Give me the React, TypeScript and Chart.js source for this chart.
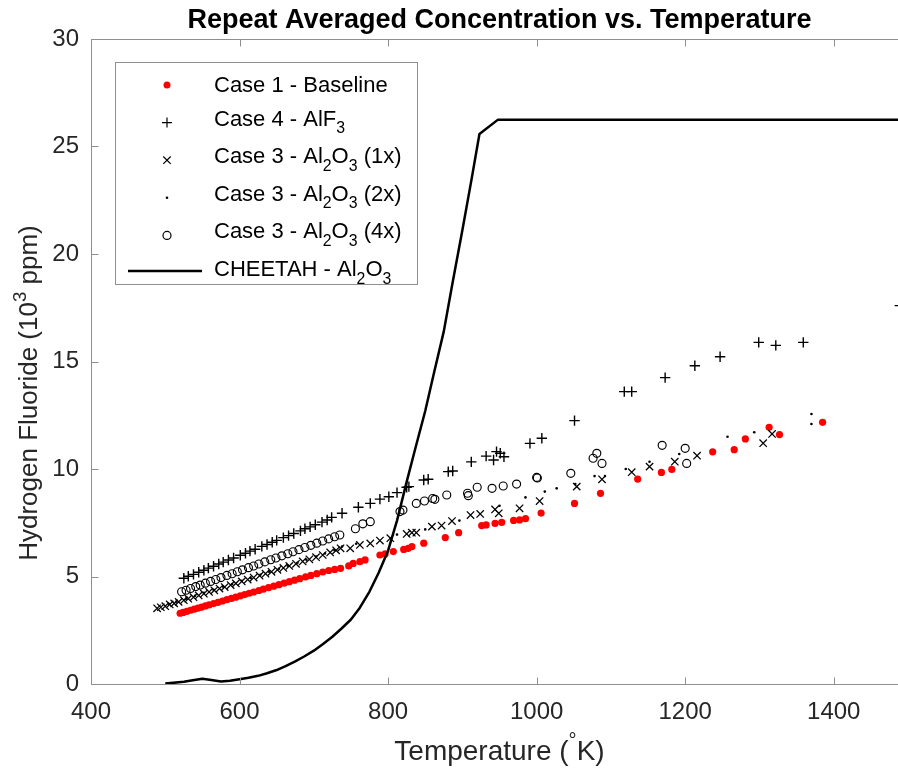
import React, { useEffect, useRef } from 'react';
import { Chart, registerables } from 'chart.js';

Chart.register(...registerables);

const FONT = "'Liberation Sans', Arial, Helvetica, sans-serif";
const AXIS = '#8f8f8f';
const TEXT = '#262626';

// ---- data ----
const baselineT = [520, 524, 529, 534, 539, 544, 549, 554, 559, 565, 571, 577, 583, 589, 595, 601, 607, 613, 619, 626, 632, 639, 646, 653, 660, 667, 674, 681, 689, 696, 704, 712, 720, 728, 736, 747, 753, 762, 769, 789, 796, 807, 821, 827, 832, 848, 877, 895, 926, 932, 944, 953, 969, 977, 985, 1006, 1051, 1086, 1136, 1168, 1182, 1237, 1266, 1281, 1313, 1327, 1385];
const baselineV = [3.29, 3.33, 3.38, 3.43, 3.48, 3.53, 3.58, 3.63, 3.68, 3.74, 3.8, 3.86, 3.92, 3.98, 4.04, 4.1, 4.16, 4.22, 4.28, 4.35, 4.41, 4.48, 4.55, 4.62, 4.69, 4.76, 4.83, 4.9, 4.98, 5.05, 5.13, 5.21, 5.28, 5.33, 5.38, 5.49, 5.61, 5.69, 5.77, 6.0, 6.05, 6.16, 6.26, 6.31, 6.39, 6.55, 6.81, 7.04, 7.37, 7.4, 7.47, 7.52, 7.61, 7.63, 7.69, 7.95, 8.4, 8.87, 9.53, 9.84, 9.98, 10.8, 10.9, 11.4, 11.94, 11.6, 12.17];

const alf3T = [525, 531, 538, 545, 552, 558, 565, 572, 578, 585, 592, 601, 608, 614, 621, 630, 637, 644, 650, 659, 666, 673, 682, 688, 695, 702, 711, 718, 724, 738, 760, 776, 789, 801, 812, 825, 828, 848, 854, 881, 887, 912, 932, 942, 946, 951, 956, 991, 1007, 1051, 1118, 1128, 1173, 1213, 1247, 1299, 1322, 1359, 1489];
const alf3V = [4.92, 5.01, 5.1, 5.2, 5.29, 5.39, 5.48, 5.58, 5.67, 5.77, 5.86, 5.99, 6.08, 6.18, 6.27, 6.4, 6.49, 6.59, 6.68, 6.81, 6.9, 7.0, 7.12, 7.22, 7.31, 7.41, 7.53, 7.63, 7.75, 7.94, 8.22, 8.4, 8.6, 8.71, 8.9, 9.15, 9.18, 9.49, 9.52, 9.88, 9.91, 10.33, 10.6, 10.42, 10.81, 10.73, 10.57, 11.19, 11.43, 12.25, 13.6, 13.6, 14.25, 14.8, 15.22, 15.89, 15.75, 15.89, 17.6];

const al1xT = [489, 494, 500, 506, 512, 518, 525, 531, 538, 545, 552, 559, 566, 573, 580, 588, 595, 603, 611, 619, 627, 635, 643, 651, 659, 667, 676, 685, 694, 703, 712, 722, 730, 736, 749, 762, 776, 789, 803, 825, 832, 838, 859, 872, 886, 911, 924, 944, 949, 977, 1004, 1054, 1088, 1128, 1152, 1186, 1216, 1305, 1317];
const al1xV = [3.52, 3.57, 3.62, 3.7, 3.75, 3.82, 3.9, 3.97, 4.04, 4.12, 4.2, 4.28, 4.36, 4.44, 4.51, 4.6, 4.68, 4.77, 4.86, 4.95, 5.04, 5.13, 5.22, 5.31, 5.4, 5.49, 5.59, 5.7, 5.8, 5.9, 6.0, 6.12, 6.22, 6.31, 6.31, 6.47, 6.54, 6.67, 6.78, 6.98, 7.04, 7.04, 7.32, 7.37, 7.58, 7.86, 7.91, 8.12, 7.94, 8.17, 8.51, 9.18, 9.52, 9.85, 10.11, 10.34, 10.62, 11.2, 11.63];

const al2xT = [505, 515, 528, 540, 552, 565, 578, 590, 603, 615, 628, 640, 653, 665, 678, 690, 703, 715, 728, 738, 757, 812, 850, 896, 950, 985, 1011, 1027, 1052, 1078, 1092, 1120, 1152, 1192, 1257, 1293, 1370, 1370];
const al2xV = [3.72, 3.83, 3.97, 4.1, 4.24, 4.38, 4.52, 4.65, 4.8, 4.93, 5.08, 5.22, 5.36, 5.5, 5.64, 5.78, 5.93, 6.07, 6.22, 6.39, 6.52, 6.95, 7.19, 7.6, 8.29, 8.68, 8.95, 9.1, 9.3, 9.67, 9.67, 10.0, 10.34, 10.7, 11.5, 11.71, 12.56, 12.09];

const al4xT = [522, 528, 534, 541, 547, 554, 561, 568, 575, 583, 590, 597, 604, 612, 619, 626, 634, 642, 649, 657, 665, 672, 680, 688, 696, 704, 712, 720, 728, 735, 756, 766, 776, 816, 820, 838, 849, 860, 863, 879, 907, 908, 920, 940, 955, 973, 1000, 1001, 1046, 1076, 1081, 1088, 1169, 1200, 1202];
const al4xV = [4.29, 4.36, 4.44, 4.53, 4.6, 4.69, 4.77, 4.86, 4.95, 5.05, 5.13, 5.22, 5.31, 5.41, 5.49, 5.58, 5.68, 5.78, 5.86, 5.96, 6.06, 6.15, 6.25, 6.35, 6.45, 6.55, 6.65, 6.75, 6.85, 6.93, 7.22, 7.45, 7.55, 8.02, 8.09, 8.4, 8.51, 8.63, 8.59, 8.79, 8.87, 8.76, 9.15, 9.1, 9.21, 9.3, 9.61, 9.58, 9.8, 10.5, 10.73, 10.26, 11.1, 10.96, 10.26];

const cheetahT = [500, 525, 537, 550, 562, 575, 587, 600, 612, 625, 637, 650, 662, 675, 687, 700, 712, 725, 737, 750, 762, 775, 787, 800, 812, 825, 837, 850, 862, 875, 887, 900, 912, 923, 948, 1500];
const cheetahV = [0.02, 0.1, 0.17, 0.24, 0.19, 0.12, 0.15, 0.22, 0.29, 0.38, 0.5, 0.65, 0.83, 1.05, 1.28, 1.55, 1.85, 2.2, 2.57, 3.0, 3.55, 4.3, 5.15, 6.2, 7.6, 9.4, 11.0, 12.7, 14.5, 16.4, 18.7, 21.1, 23.4, 25.58, 26.25, 26.25];

const xTicks = [400, 600, 800, 1000, 1200, 1400];
const yTicks = [0, 5, 10, 15, 20, 25, 30];

const TITLE = 'Repeat Averaged Concentration vs. Temperature';

type Part = { t: string; s?: 'sub' | 'sup' };
const X_TITLE: Part[] = [{ t: 'Temperature (' }, { t: '\u00B0', s: 'sup' }, { t: 'K)' }];
const Y_TITLE: Part[] = [{ t: 'Hydrogen Fluoride (10' }, { t: '3', s: 'sup' }, { t: ' ppm)' }];

const LEGEND: { marker: string; parts: Part[] }[] = [
  { marker: 'dot', parts: [{ t: 'Case 1 - Baseline' }] },
  { marker: 'plus', parts: [{ t: 'Case 4 - AlF' }, { t: '3', s: 'sub' }] },
  { marker: 'x', parts: [{ t: 'Case 3 - Al' }, { t: '2', s: 'sub' }, { t: 'O' }, { t: '3', s: 'sub' }, { t: ' (1x)' }] },
  { marker: 'point', parts: [{ t: 'Case 3 - Al' }, { t: '2', s: 'sub' }, { t: 'O' }, { t: '3', s: 'sub' }, { t: ' (2x)' }] },
  { marker: 'circle', parts: [{ t: 'Case 3 - Al' }, { t: '2', s: 'sub' }, { t: 'O' }, { t: '3', s: 'sub' }, { t: ' (4x)' }] },
  { marker: 'line', parts: [{ t: 'CHEETAH - Al' }, { t: '2', s: 'sub' }, { t: 'O' }, { t: '3', s: 'sub' }] },
];

function zip(t: number[], v: number[]) {
  return t.map((x, i) => ({ x, y: v[i] }));
}

function partFont(p: Part, size: number, weight: string) {
  const fs = p.s ? size * 0.72 : size;
  return `${weight} ${fs}px ${FONT}`;
}

function measureRich(ctx: CanvasRenderingContext2D, parts: Part[], size: number, weight: string) {
  let w = 0;
  for (const p of parts) {
    ctx.font = partFont(p, size, weight);
    w += ctx.measureText(p.t).width;
  }
  return w;
}

function drawRich(ctx: CanvasRenderingContext2D, parts: Part[], x: number, y: number, size: number, weight: string, align: 'left' | 'center') {
  const total = measureRich(ctx, parts, size, weight);
  let cx = align === 'center' ? x - total / 2 : x;
  ctx.textAlign = 'left';
  ctx.textBaseline = 'middle';
  for (const p of parts) {
    ctx.font = partFont(p, size, weight);
    const dy = p.s === 'sub' ? size * 0.42 : p.s === 'sup' ? -size * 0.36 : 0;
    ctx.fillText(p.t, cx, y + dy);
    cx += ctx.measureText(p.t).width;
  }
}

function drawMarker(ctx: CanvasRenderingContext2D, kind: string, x: number, y: number) {
  ctx.save();
  ctx.strokeStyle = '#000';
  ctx.fillStyle = '#000';
  ctx.lineWidth = 1.2;
  ctx.beginPath();
  if (kind === 'dot') {
    ctx.fillStyle = '#ff0000';
    ctx.arc(x, y, 3.5, 0, Math.PI * 2);
    ctx.fill();
  } else if (kind === 'plus') {
    ctx.moveTo(x - 5, y); ctx.lineTo(x + 5, y);
    ctx.moveTo(x, y - 5); ctx.lineTo(x, y + 5);
    ctx.stroke();
  } else if (kind === 'x') {
    const o = 3.7;
    ctx.moveTo(x - o, y - o); ctx.lineTo(x + o, y + o);
    ctx.moveTo(x - o, y + o); ctx.lineTo(x + o, y - o);
    ctx.stroke();
  } else if (kind === 'point') {
    ctx.arc(x, y, 1.3, 0, Math.PI * 2);
    ctx.fill();
  } else if (kind === 'circle') {
    ctx.arc(x, y, 4, 0, Math.PI * 2);
    ctx.stroke();
  } else if (kind === 'line') {
    ctx.lineWidth = 2.5;
    ctx.moveTo(128, y); ctx.lineTo(202, y);
    ctx.stroke();
  }
  ctx.restore();
}

const decorPlugin = {
  id: 'decor',
  afterDraw(chart: any) {
    const { ctx, chartArea: a, scales } = chart;
    const xs = scales.x;
    const ys = scales.y;
    ctx.save();
    // axes box
    ctx.strokeStyle = AXIS;
    ctx.lineWidth = 1;
    const L = Math.round(a.left) + 0.5;
    const R = Math.round(a.right) + 0.5;
    const T = Math.round(a.top) + 0.5;
    const B = Math.round(a.bottom) + 0.5;
    ctx.beginPath();
    ctx.rect(L, T, R - L, B - T);
    ctx.stroke();
    // inward ticks
    const TL = 7;
    ctx.beginPath();
    for (const v of xTicks) {
      const px = Math.round(xs.getPixelForValue(v)) + 0.5;
      ctx.moveTo(px, B); ctx.lineTo(px, B - TL);
      ctx.moveTo(px, T); ctx.lineTo(px, T + TL);
    }
    for (const v of yTicks) {
      const py = Math.round(ys.getPixelForValue(v)) + 0.5;
      ctx.moveTo(L, py); ctx.lineTo(L + TL, py);
      ctx.moveTo(R, py); ctx.lineTo(R - TL, py);
    }
    ctx.stroke();

    // legend
    const lx = 115.5, ly = 62.5, lw = 302, lh = 222;
    ctx.fillStyle = '#ffffff';
    ctx.fillRect(lx, ly, lw, lh);
    ctx.strokeStyle = AXIS;
    ctx.strokeRect(lx, ly, lw, lh);
    const rowY = [85, 122.6, 160.2, 197.8, 235.4, 273];
    LEGEND.forEach((item, i) => {
      const hasSub = item.parts.some((p) => p.s === 'sub');
      const y = rowY[i];
      drawMarker(ctx, item.marker, 167, item.marker === 'line' ? y - 2 : y);
      ctx.fillStyle = '#000';
      drawRich(ctx, item.parts, 214, hasSub ? y - 3 : y + 1, 22, 'normal', 'left');
    });

    // axis titles
    ctx.fillStyle = TEXT;
    drawRich(ctx, X_TITLE, (a.left + a.right) / 2, 752, 28, 'normal', 'center');
    ctx.save();
    ctx.translate(30, 393);
    ctx.rotate(-Math.PI / 2);
    drawRich(ctx, Y_TITLE, 0, 0, 26, 'normal', 'center');
    ctx.restore();

    ctx.restore();
  },
};

export default function App() {
  const ref = useRef<HTMLCanvasElement | null>(null);

  useEffect(() => {
    if (!ref.current) return;
    const chart = new Chart(ref.current, {
      type: 'scatter',
      data: {
        datasets: [
          {
            label: 'CHEETAH - Al2O3',
            data: zip(cheetahT, cheetahV),
            showLine: true,
            borderColor: '#000',
            borderWidth: 2.5,
            pointRadius: 0,
            tension: 0,
            borderJoinStyle: 'round',
            order: 0,
          } as any,
          {
            label: 'Case 1 - Baseline',
            data: zip(baselineT, baselineV),
            pointStyle: 'circle',
            pointRadius: 3.6,
            pointBorderWidth: 0,
            backgroundColor: '#ff0000',
            borderColor: '#ff0000',
            order: 5,
          },
          {
            label: 'Case 4 - AlF3',
            data: zip(alf3T, alf3V),
            pointStyle: 'cross',
            pointRadius: 5.2,
            pointBorderWidth: 1.4,
            borderColor: '#000',
            backgroundColor: '#000',
            order: 4,
          },
          {
            label: 'Case 3 - Al2O3 (1x)',
            data: zip(al1xT, al1xV),
            pointStyle: 'crossRot',
            pointRadius: 5.2,
            pointBorderWidth: 1.25,
            borderColor: '#000',
            backgroundColor: '#000',
            order: 3,
          },
          {
            label: 'Case 3 - Al2O3 (2x)',
            data: zip(al2xT, al2xV),
            pointStyle: 'circle',
            pointRadius: 1.3,
            pointBorderWidth: 0,
            borderColor: '#000',
            backgroundColor: '#000',
            order: 2,
          },
          {
            label: 'Case 3 - Al2O3 (4x)',
            data: zip(al4xT, al4xV),
            pointStyle: 'circle',
            pointRadius: 4,
            pointBorderWidth: 1.15,
            borderColor: '#000',
            backgroundColor: 'rgba(0,0,0,0)',
            order: 1,
          },
        ],
      },
      options: {
        animation: false,
        responsive: true,
        maintainAspectRatio: false,
        layout: { padding: { left: 0, right: 22, top: 0, bottom: 0 } },
        plugins: {
          legend: { display: false },
          tooltip: { enabled: false },
          title: {
            display: true,
            text: TITLE,
            fullSize: false,
            color: '#000',
            font: { family: FONT, size: 27, weight: 'bold' },
            padding: { top: 4, bottom: 2.6 },
          },
        },
        scales: {
          x: {
            type: 'linear',
            min: 400,
            max: 1500,
            grid: { display: false, drawTicks: false },
            border: { display: false },
            ticks: {
              color: TEXT,
              font: { family: FONT, size: 24 },
              padding: 14,
              maxRotation: 0,
              callback: (v: any) => String(v),
            },
            afterBuildTicks: (s: any) => {
              s.ticks = xTicks.map((v) => ({ value: v }));
            },
            afterFit: (s: any) => {
              s.height = 89;
            },
          },
          y: {
            type: 'linear',
            min: 0,
            max: 30,
            grid: { display: false, drawTicks: false },
            border: { display: false },
            ticks: {
              color: TEXT,
              font: { family: FONT, size: 24 },
              padding: 12,
              callback: (v: any) => String(v),
            },
            afterBuildTicks: (s: any) => {
              s.ticks = yTicks.map((v) => ({ value: v }));
            },
            afterFit: (s: any) => {
              s.width = 91;
            },
          },
        },
      },
      plugins: [decorPlugin],
    });
    return () => chart.destroy();
  }, []);

  return (
    <div
      style={{
        position: 'fixed',
        left: 0,
        top: 0,
        width: 898,
        height: 773,
        overflow: 'hidden',
        background: '#ffffff',
      }}
    >
      <div style={{ position: 'relative', width: 930, height: 773 }}>
        <canvas ref={ref} />
      </div>
    </div>
  );
}
